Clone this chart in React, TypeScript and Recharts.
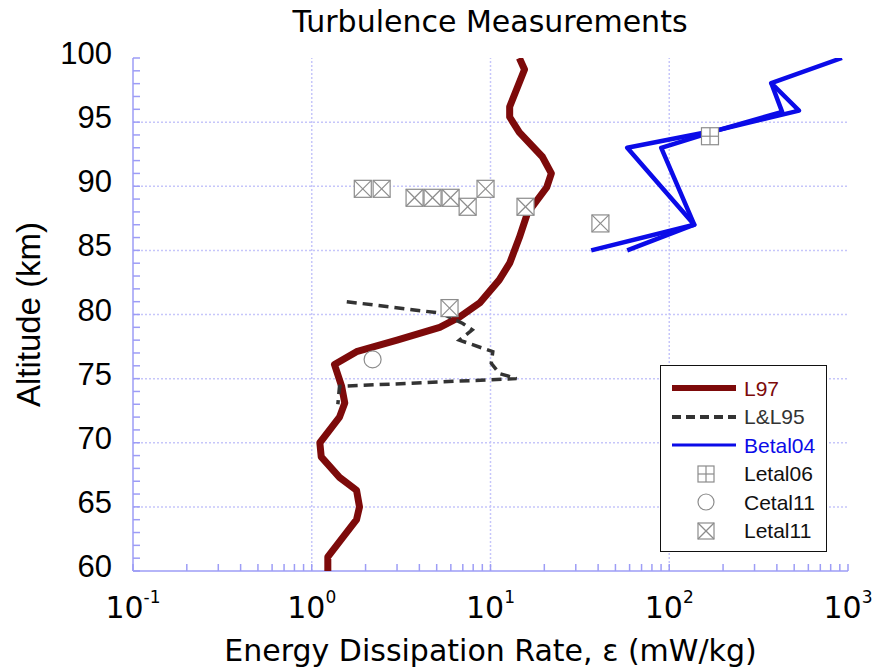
import { ScatterChart, Scatter, XAxis, YAxis, ReferenceLine, Legend } from 'recharts'

// axis ticks (log x, linear y)
const xMajor = [0.1, 1, 10, 100, 1000]
const xTicks = [
  0.1, 0.2, 0.3, 0.4, 0.5, 0.6, 0.7, 0.8, 0.9,
  1, 2, 3, 4, 5, 6, 7, 8, 9,
  10, 20, 30, 40, 50, 60, 70, 80, 90,
  100, 200, 300, 400, 500, 600, 700, 800, 900, 1000,
]
const yTicks = [
  60, 61, 62, 63, 64, 65, 66, 67, 68, 69, 70, 71, 72, 73, 74, 75, 76, 77, 78, 79, 80,
  81, 82, 83, 84, 85, 86, 87, 88, 89, 90, 91, 92, 93, 94, 95, 96, 97, 98, 99, 100,
]
const gridX = [1, 10, 100]
const gridY = [65, 70, 75, 80, 85, 90, 95]

// profiles: eps in mW/kg, alt in km
const l97 = [
  { eps: 14.5, alt: 100 }, { eps: 15.5, alt: 99.1 }, { eps: 12.8, alt: 96.2 },
  { eps: 12.8, alt: 95.4 }, { eps: 14.5, alt: 94.2 }, { eps: 19.5, alt: 92.3 },
  { eps: 21.9, alt: 91.0 }, { eps: 20.6, alt: 89.9 }, { eps: 16.1, alt: 87.9 },
  { eps: 14.5, alt: 86.0 }, { eps: 12.8, alt: 84.0 }, { eps: 11.2, alt: 82.7 },
  { eps: 8.7, alt: 80.9 }, { eps: 6.7, alt: 79.8 }, { eps: 5.2, alt: 79.0 },
  { eps: 3.0, alt: 78.0 }, { eps: 1.78, alt: 77.1 }, { eps: 1.34, alt: 76.1 },
  { eps: 1.47, alt: 74.4 }, { eps: 1.53, alt: 73.1 }, { eps: 1.43, alt: 72.0 },
  { eps: 1.11, alt: 70.0 }, { eps: 1.13, alt: 68.9 }, { eps: 1.43, alt: 67.3 },
  { eps: 1.78, alt: 66.3 }, { eps: 1.85, alt: 65.0 }, { eps: 1.78, alt: 64.0 },
  { eps: 1.23, alt: 61.1 }, { eps: 1.23, alt: 60.0 },
]
const ll95 = [
  { eps: 1.57, alt: 81.0 }, { eps: 5.3, alt: 80.1 }, { eps: 7.0, alt: 79.3 },
  { eps: 7.9, alt: 78.8 }, { eps: 6.7, alt: 78.0 }, { eps: 10.3, alt: 77.1 },
  { eps: 10.1, alt: 76.2 }, { eps: 11.2, alt: 75.4 }, { eps: 14.0, alt: 75.0 },
  { eps: 1.43, alt: 74.4 }, { eps: 1.4, alt: 73.0 },
]
const betal04a = [
  { eps: 36.6, alt: 85.0 }, { eps: 138, alt: 87.0 }, { eps: 58.2, alt: 93.0 },
  { eps: 190, alt: 94.4 }, { eps: 532, alt: 95.9 }, { eps: 372, alt: 98.05 },
  { eps: 925, alt: 100 },
]
const betal04b = [
  { eps: 58.2, alt: 85.0 }, { eps: 138, alt: 87.0 }, { eps: 90.2, alt: 93.0 },
  { eps: 190, alt: 94.4 }, { eps: 428, alt: 95.8 }, { eps: 372, alt: 98.05 },
]
const letal06 = [{ eps: 169, alt: 93.9 }]
const cetal11 = [{ eps: 2.19, alt: 76.5 }]
const letal11 = [
  { eps: 1.93, alt: 89.8 }, { eps: 2.46, alt: 89.8 }, { eps: 3.76, alt: 89.1 },
  { eps: 4.74, alt: 89.1 }, { eps: 5.98, alt: 89.1 }, { eps: 7.45, alt: 88.4 },
  { eps: 9.38, alt: 89.8 }, { eps: 15.7, alt: 88.4 }, { eps: 5.9, alt: 80.5 },
  { eps: 41.2, alt: 87.1 },
]

const RED = '#7d0a0a'
const BLUE = '#0b0be8'
const DASH = '#333333'
const FRAME = '#9d9df6'
const GRID = '#c6c6fa'
const MARK = '#8c8c8c'
const SANS = 'Liberation Sans, Arial, sans-serif'
const ROUND = 'DejaVu Sans, sans-serif'

const noDot = () => <g />

function BoxX({ cx, cy, size = 17 }: any) {
  const h = size / 2
  return (
    <g stroke={MARK} strokeWidth={1.2} fill="#fff">
      <rect x={cx - h} y={cy - h} width={size} height={size} />
      <line x1={cx - h} y1={cy - h} x2={cx + h} y2={cy + h} />
      <line x1={cx + h} y1={cy - h} x2={cx - h} y2={cy + h} />
    </g>
  )
}

function BoxPlus({ cx, cy, size = 17 }: any) {
  const h = size / 2
  return (
    <g stroke={MARK} strokeWidth={1.2} fill="#fff">
      <rect x={cx - h} y={cy - h} width={size} height={size} />
      <line x1={cx} y1={cy - h} x2={cx} y2={cy + h} />
      <line x1={cx - h} y1={cy} x2={cx + h} y2={cy} />
    </g>
  )
}

function Ring({ cx, cy, size = 17 }: any) {
  return <circle cx={cx} cy={cy} r={size / 2} stroke={MARK} strokeWidth={1.2} fill="#fff" />
}

function XTick({ x, y, payload }: any) {
  if (!xMajor.includes(payload.value)) return <g />
  const exp = Math.round(Math.log10(payload.value))
  return (
    <text x={x} y={y} textAnchor="middle" fontSize={30} fill="#000" fontFamily={ROUND}>
      <tspan>10</tspan>
      <tspan dy={-15} fontSize={17}>{exp}</tspan>
    </text>
  )
}

function YTick({ x, y, payload }: any) {
  if (payload.value % 5 !== 0) return <g />
  return (
    <text x={x} y={y} dy={6} textAnchor="end" fontSize={31} fill="#000" fontFamily={SANS}>
      {payload.value}
    </text>
  )
}

const legendRows = [
  { name: 'L97', color: RED, kind: 'line', width: 6, dash: undefined },
  { name: 'L&L95', color: DASH, kind: 'line', width: 4, dash: '9 5' },
  { name: 'Betal04', color: BLUE, kind: 'line', width: 3, dash: undefined },
  { name: 'Letal06', color: '#111', kind: 'plus' },
  { name: 'Cetal11', color: '#111', kind: 'ring' },
  { name: 'Letal11', color: '#111', kind: 'box' },
]

function LegendBox() {
  return (
    <div
      style={{
        width: 167,
        height: 187,
        boxSizing: 'border-box',
        border: '1.5px solid #111',
        background: '#fff',
        paddingTop: 8,
        fontFamily: SANS,
        fontSize: 21,
      }}
    >
      {legendRows.map((r) => (
        <div key={r.name} style={{ display: 'flex', alignItems: 'center', height: 28.5 }}>
          <svg width={83} height={28} style={{ flex: 'none' }}>
            {r.kind === 'line' && (
              <line x1={11} y1={14} x2={75} y2={14} stroke={r.color} strokeWidth={r.width} strokeDasharray={r.dash} />
            )}
            {r.kind === 'plus' && <BoxPlus cx={45} cy={14} size={16} />}
            {r.kind === 'ring' && <Ring cx={45} cy={14} size={16} />}
            {r.kind === 'box' && <BoxX cx={45} cy={14} size={16} />}
          </svg>
          <span style={{ color: r.color, lineHeight: 1 }}>{r.name}</span>
        </div>
      ))}
    </div>
  )
}

export default function App() {
  return (
    <div style={{ position: 'absolute', left: 0, top: 0, width: 874, height: 672, background: '#fff' }}>
      <div
        style={{
          position: 'absolute',
          left: 0,
          width: 980,
          top: 4,
          textAlign: 'center',
          fontFamily: ROUND,
          fontSize: 30,
          color: '#000',
        }}
      >
        Turbulence Measurements
      </div>
      <ScatterChart width={874} height={672} margin={{ top: 58, right: 26, bottom: 0, left: 0 }}>
        <XAxis
          dataKey="eps"
          type="number"
          scale="log"
          domain={[0.1, 1000]}
          allowDataOverflow
          ticks={xTicks}
          interval={0}
          height={101}
          stroke={FRAME}
          strokeWidth={1.5}
          tickSize={-7}
          tickMargin={54}
          tick={<XTick />}
          label={{
            value: 'Energy Dissipation Rate, ε (mW/kg)',
            position: 'insideBottom',
            offset: 11,
            style: { fontSize: 30, fill: '#000', fontFamily: ROUND },
          }}
        />
        <XAxis
          xAxisId="top"
          orientation="top"
          type="number"
          scale="log"
          domain={[0.1, 1000]}
          allowDataOverflow
          ticks={xTicks}
          interval={0}
          height={0}
          stroke={FRAME}
          strokeWidth={1.5}
          tickSize={-7}
          tick={false}
        />
        <YAxis
          dataKey="alt"
          type="number"
          domain={[60, 100]}
          allowDataOverflow
          ticks={yTicks}
          interval={0}
          width={133}
          stroke={FRAME}
          strokeWidth={1.5}
          tickSize={-7}
          tickMargin={28}
          tick={<YTick />}
          label={{
            value: 'Altitude (km)',
            angle: -90,
            position: 'insideLeft',
            offset: 28,
            style: { textAnchor: 'middle', fontSize: 33, fill: '#000', fontFamily: SANS },
          }}
        />
        <YAxis
          yAxisId="right"
          orientation="right"
          type="number"
          domain={[60, 100]}
          allowDataOverflow
          ticks={yTicks}
          interval={0}
          width={0}
          stroke={FRAME}
          strokeWidth={1.5}
          tickSize={-7}
          tick={false}
        />
        {gridX.map((v) => (
          <ReferenceLine key={'gx' + v} x={v} stroke={GRID} strokeWidth={1.5} strokeDasharray="2 2" />
        ))}
        {gridY.map((v) => (
          <ReferenceLine key={'gy' + v} y={v} stroke={GRID} strokeWidth={1.5} strokeDasharray="2 2" />
        ))}
        <Legend
          layout="vertical"
          align="center"
          verticalAlign="middle"
          wrapperStyle={{ left: 660, top: 365, width: 167, height: 187 }}
          content={() => <LegendBox />}
        />
        <Scatter
          name="L97"
          data={l97}
          fill={RED}
          line={{ stroke: RED, strokeWidth: 7, strokeLinejoin: 'round' }}
          shape={noDot}
          isAnimationActive={false}
        />
        <Scatter
          name="L&L95"
          data={ll95}
          fill={DASH}
          line={{ stroke: DASH, strokeWidth: 3.5, strokeDasharray: '10 6' }}
          shape={noDot}
          isAnimationActive={false}
        />
        <Scatter
          name="Betal04"
          data={betal04a}
          fill={BLUE}
          line={{ stroke: BLUE, strokeWidth: 4.5, strokeLinejoin: 'round' }}
          shape={noDot}
          isAnimationActive={false}
        />
        <Scatter
          name="Betal04b"
          data={betal04b}
          fill={BLUE}
          line={{ stroke: BLUE, strokeWidth: 4.5, strokeLinejoin: 'round' }}
          shape={noDot}
          isAnimationActive={false}
        />
        <Scatter name="Letal06" data={letal06} shape={(p: any) => <BoxPlus cx={p.cx} cy={p.cy} />} isAnimationActive={false} />
        <Scatter name="Cetal11" data={cetal11} shape={(p: any) => <Ring cx={p.cx} cy={p.cy} />} isAnimationActive={false} />
        <Scatter name="Letal11" data={letal11} shape={(p: any) => <BoxX cx={p.cx} cy={p.cy} />} isAnimationActive={false} />
      </ScatterChart>
    </div>
  )
}
